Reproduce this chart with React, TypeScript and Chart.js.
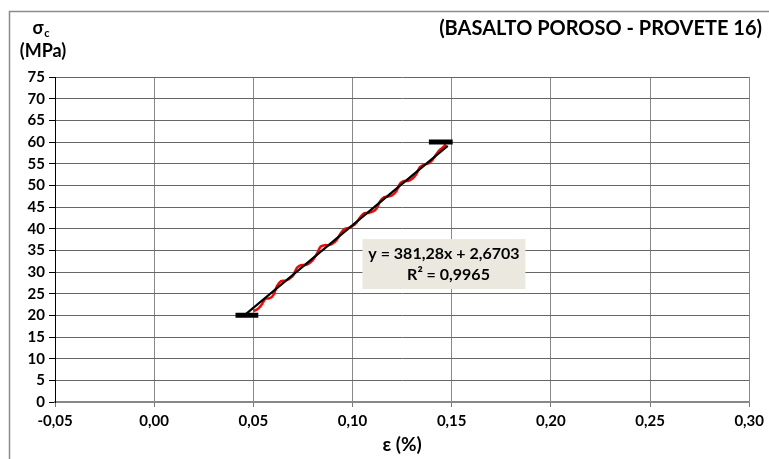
import React, { useEffect, useRef } from "react";
import { Chart, registerables } from "chart.js";

Chart.register(...registerables);

const strainPct: number[] = [0.050,0.052,0.054,0.056,0.058,0.060,0.062,0.064,0.066,0.068,0.070,0.072,0.074,0.076,0.078,0.080,0.082,0.084,0.086,0.088,0.090,0.092,0.094,0.096,0.098,0.100,0.102,0.104,0.106,0.108,0.110,0.112,0.114,0.116,0.118,0.120,0.122,0.124,0.126,0.128,0.130,0.132,0.134,0.136,0.138,0.140,0.142,0.144,0.146,0.147];
const stressMPa: number[] = [21.0,21.4,22.3,23.8,23.9,24.6,26.8,27.9,28.0,28.4,29.2,31.0,31.6,31.6,32.0,32.8,34.2,35.9,36.2,36.2,36.6,37.4,38.9,39.9,40.2,40.6,41.4,42.7,43.6,43.6,43.9,44.6,46.4,47.3,47.4,47.7,48.6,50.4,51.0,51.0,51.5,52.5,54.2,54.8,55.0,55.7,57.0,58.2,58.9,59.5];
const trendX: number[] = [0.0465, 0.148];
const slope = 381.28;
const intercept = 2.6703;
const lowerMarkX: number[] = [0.041, 0.0525];
const lowerMarkY = 20;
const upperMarkX: number[] = [0.1385, 0.1505];
const upperMarkY = 60;
const xTicks: number[] = [-0.05, 0, 0.05, 0.1, 0.15, 0.2, 0.25, 0.3];
const yTicks: number[] = [0,5,10,15,20,25,30,35,40,45,50,55,60,65,70,75];
const title = "(BASALTO POROSO - PROVETE 16)";
const eqLine1 = "y = 381,28x + 2,6703";
const eqLine2 = "R² = 0,9965";
const FONT = "Lato, 'Open Sans', sans-serif";

const decorPlugin = {
  id: "decor",
  beforeDraw(chart: any) {
    const ctx = chart.ctx;
    ctx.save();
    ctx.fillStyle = "#ffffff";
    ctx.fillRect(0, 0, chart.width, chart.height);
    ctx.strokeStyle = "#8c8c8c";
    ctx.lineWidth = 1.5;
    ctx.strokeRect(9.5, 11.5, 900, 600);
    ctx.restore();
  },
  afterDraw(chart: any) {
    const ctx = chart.ctx;
    const xs = chart.scales.x;
    const ys = chart.scales.y;
    ctx.save();
    ctx.fillStyle = "#000";
    ctx.textBaseline = "middle";
    // title
    ctx.font = `bold 20px ${FONT}`;
    ctx.textAlign = "right";
    ctx.fillText(title, 762, 29);
    // y axis title
    ctx.textAlign = "center";
    ctx.font = `bold 18px ${FONT}`;
    ctx.fillText("σ", 38, 28);
    ctx.font = `bold 11px ${FONT}`;
    ctx.fillText("c", 47, 33);
    ctx.font = `bold 18px ${FONT}`;
    ctx.fillText("(MPa)", 43, 51);
    // x axis title
    ctx.font = `bold 19px ${FONT}`;
    ctx.fillText("ε (%)", xs.getPixelForValue(0.125), 445);
    // equation box
    const bx = xs.getPixelForValue(0.105);
    const by = ys.getPixelForValue(37.6);
    const bw = 163, bh = 50;
    ctx.fillStyle = "#ebe9df";
    ctx.fillRect(bx, by, bw, bh);
    ctx.fillStyle = "#000";
    ctx.font = `bold 16px ${FONT}`;
    ctx.textAlign = "center";
    ctx.fillText(eqLine1, bx + bw / 2, by + 15);
    ctx.textAlign = "right";
    ctx.fillText(eqLine2, bx + bw / 2 + 46, by + 36);
    ctx.restore();
  },
};

export default function App() {
  const ref = useRef<HTMLCanvasElement | null>(null);
  useEffect(() => {
    document.body.style.margin = "0";
    const canvas = ref.current!;
    const fmt = (v: number) => v.toFixed(2).replace(".", ",");
    const chart = new Chart(canvas, {
      type: "line",
      data: {
        datasets: [
          {
            data: strainPct.map((x, i) => ({ x, y: stressMPa[i] })),
            borderColor: "#ff0000",
            borderWidth: 2.5,
            pointRadius: 0,
            tension: 0.3,
            order: 2,
          },
          {
            data: trendX.map((x) => ({ x, y: slope * x + intercept })),
            borderColor: "#000000",
            borderWidth: 2.2,
            pointRadius: 0,
            order: 1,
          },
          {
            data: lowerMarkX.map((x) => ({ x, y: lowerMarkY })),
            borderColor: "#000000",
            borderWidth: 5,
            pointRadius: 0,
            order: 0,
          },
          {
            data: upperMarkX.map((x) => ({ x, y: upperMarkY })),
            borderColor: "#000000",
            borderWidth: 5,
            pointRadius: 0,
            order: 0,
          },
        ],
      },
      options: {
        animation: false,
        responsive: false,
        devicePixelRatio: 1,
        layout: { padding: { left: 0, top: 77, right: 14, bottom: 0 } },
        plugins: { legend: { display: false }, tooltip: { enabled: false } },
        scales: {
          x: {
            type: "linear",
            min: -0.05,
            max: 0.3,
            afterFit: (s: any) => { s.height = 57; },
            afterBuildTicks: (s: any) => { s.ticks = xTicks.map((v) => ({ value: v })); },
            ticks: {
              color: "#000",
              font: { family: FONT, size: 15, weight: "bold" },
              callback: (v: any) => fmt(Number(v)),
              padding: 5,
              maxRotation: 0,
            },
            grid: {
              color: "#888",
              lineWidth: 1,
              borderDash: [1, 1],
              tickLength: 5,
              tickColor: "#777",
              tickBorderDash: [],
              tickWidth: 1,
            },
            border: { color: "#888", width: 2 },
          },
          y: {
            type: "linear",
            min: 0,
            max: 75,
            afterFit: (s: any) => { s.width = 55; },
            afterBuildTicks: (s: any) => { s.ticks = yTicks.map((v) => ({ value: v })); },
            ticks: {
              color: "#000",
              font: { family: FONT, size: 15, weight: "bold" },
              padding: 4,
            },
            grid: {
              color: "#666",
              lineWidth: 1,
              borderDash: [1, 1],
              tickLength: 6,
              tickColor: "#000",
              tickBorderDash: [],
              tickWidth: 1,
            },
            border: { color: "#000", width: 1 },
          },
        },
      },
      plugins: [decorPlugin],
    } as any);
    return () => chart.destroy();
  }, []);
  return <canvas ref={ref} width={769} height={459} style={{ display: "block" }} />;
}
